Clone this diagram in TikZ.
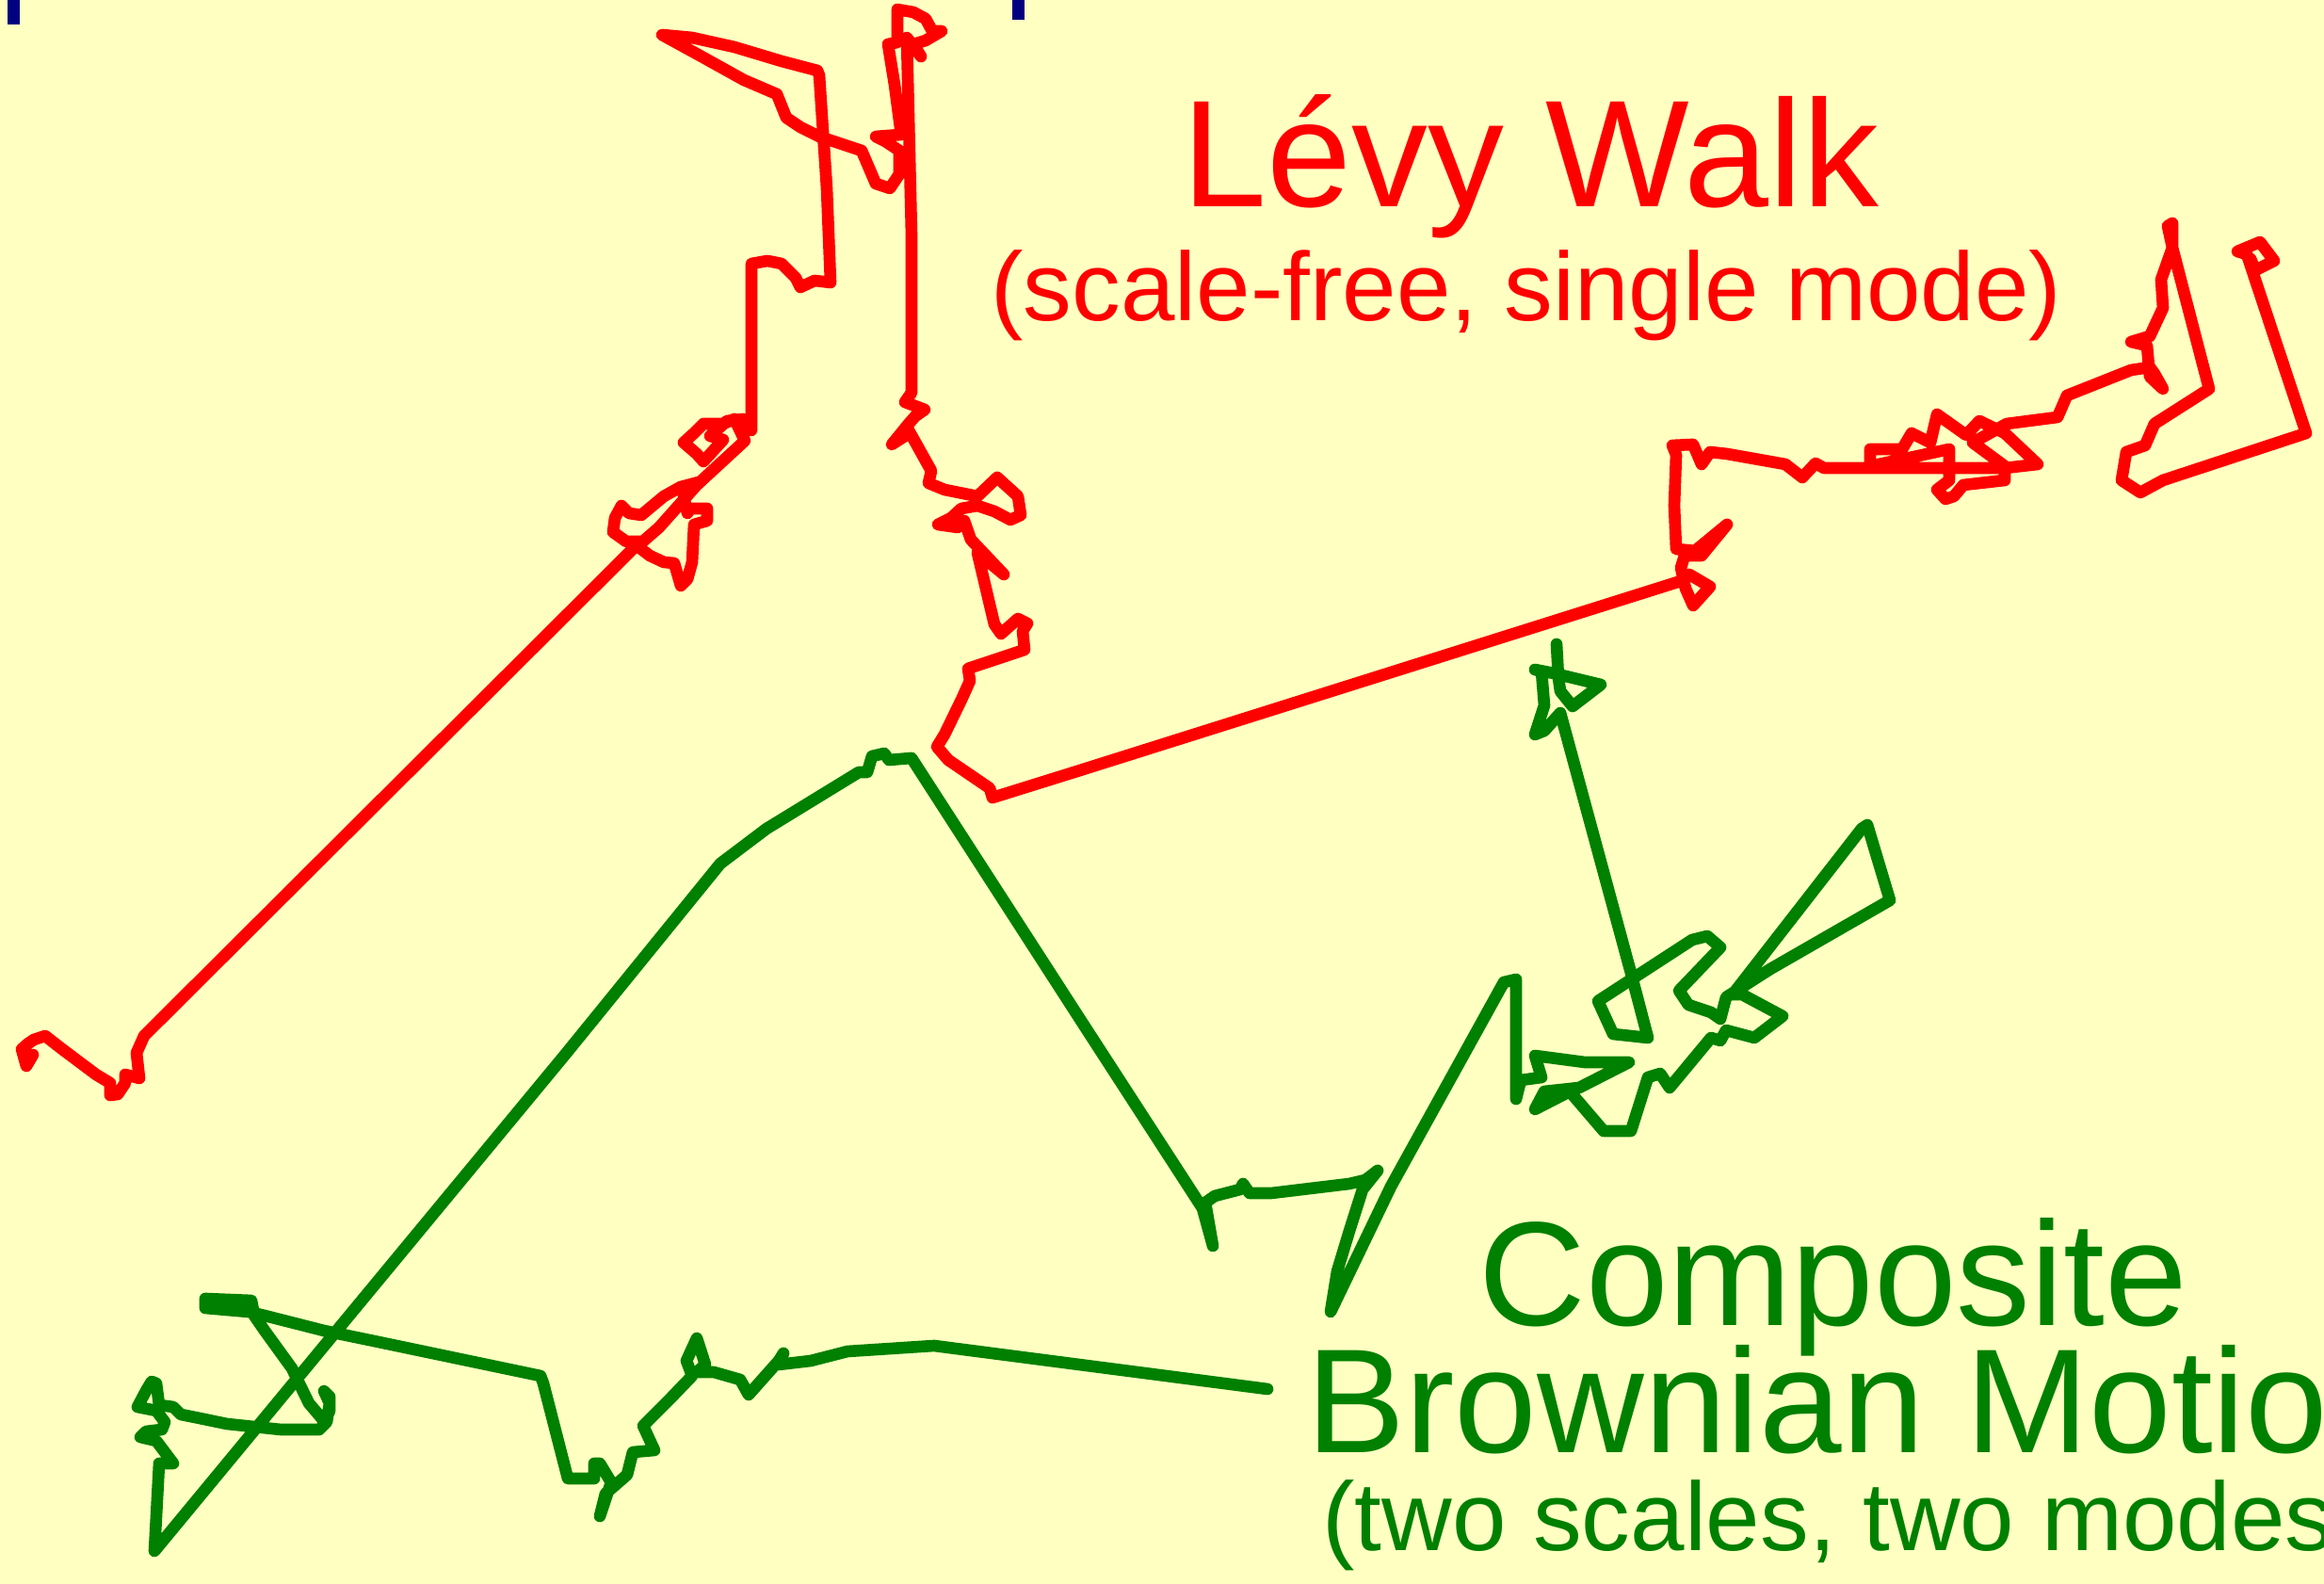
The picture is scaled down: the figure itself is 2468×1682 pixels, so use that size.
\documentclass[tikz,border=0pt]{standalone}
\usepackage{fontspec}
\setmainfont{Liberation Sans}
\definecolor{bgyellow}{HTML}{FFFFC2}
\definecolor{walkred}{HTML}{FF0000}
\definecolor{walkgreen}{HTML}{008000}
\definecolor{titlenavy}{HTML}{000080}
\tikzset{
  redwalk/.style={draw=walkred, line width=1.8pt, line join=round, line cap=round},
  greenwalk/.style={draw=walkgreen, line width=1.8pt, line join=round, line cap=round},
  biglabel/.style={inner sep=0pt, anchor=base west, font=\fontsize{22.4}{26}\selectfont},
  smalllabel/.style={inner sep=0pt, anchor=base west, font=\fontsize{14.7}{17}\selectfont}
}
\begin{document}
\begin{tikzpicture}[x=0.05mm, y=-0.05mm]
\useasboundingbox (0,0) rectangle (2468,1682);
\fill[bgyellow] (0,0) rectangle (2468,1682);
\begin{scope}
\clip (0,0) rectangle (2468,1682);
% title fragments cut at the top edge
\fill[titlenavy] (8,0) rectangle (21,26);
\fill[titlenavy] (1075,0) rectangle (1088,21);

% Levy walk
\draw[redwalk] (35,1120) -- (28,1132) -- (23,1114) -- (30,1108) -- (36,1104) -- (48,1100) -- (66,1114) -- (102,1141) -- (117,1150) -- (117,1163) -- (125,1162) -- (133,1150) -- (133,1141) -- (148,1145) -- (145,1118) -- (153,1100)
 -- (680,575) -- (665,575) -- (651,565) -- (653,550) -- (660,537) -- (668,545) -- (681,547) -- (705,527) -- (723,517) -- (742,512) -- (726,527) -- (730,545) -- (733,540) -- (751,540) -- (751,553) -- (737,557) -- (735,597) -- (730,615) -- (723,622) -- (716,598) -- (705,597) -- (690,590) -- (677,580) -- (700,560) -- (740,515) -- (791,468) -- (780,445) -- (768,450) -- (747,450) -- (737,460) -- (726,470) -- (740,482) -- (747,490) -- (768,467) -- (754,463) -- (772,447) -- (789,445) -- (798,457)
 -- (798,280) -- (815,277) -- (830,280) -- (845,295) -- (850,305) -- (865,298) -- (882,300) -- (878,200) -- (870,80) -- (868,75) -- (830,65) -- (780,50) -- (735,40) -- (703,37) -- (745,60) -- (790,85) -- (825,100) -- (835,125) -- (850,135) -- (870,145) -- (915,160) -- (930,195) -- (945,200) -- (955,185) -- (955,160) -- (940,150) -- (930,145) -- (957,143) -- (950,90) -- (943,47) -- (953,45) -- (953,10) -- (970,13) -- (983,20) -- (990,33) -- (1000,33) -- (983,43) -- (970,47) -- (978,60) -- (963,40) -- (968,250) -- (968,417)
 -- (961,427) -- (982,435) -- (972,442) -- (965,450) -- (947,472) -- (961,463) -- (965,457) -- (989,500) -- (986,513) -- (1003,520) -- (1038,527) -- (1059,507) -- (1081,527) -- (1084,547) -- (1073,552) -- (1056,543) -- (1038,537) -- (1021,540) -- (1010,550) -- (996,557) -- (1017,560) -- (1024,553) -- (1031,573) -- (1066,610) -- (1038,587) -- (1056,663) -- (1063,673) -- (1081,657) -- (1091,662) -- (1086,670) -- (1088,690) -- (1028,710) -- (1030,723) -- (1021,743) -- (1003,780) -- (995,793) -- (1007,807) -- (1051,837) -- (1054,847) -- (1147,818)
 -- (1785,617) -- (1794,610) -- (1816,623) -- (1798,643) -- (1790,625) -- (1785,603) -- (1789,590) -- (1807,590) -- (1834,557) -- (1800,585) -- (1780,583) -- (1778,537) -- (1780,483) -- (1776,473) -- (1798,472) -- (1807,493) -- (1816,480) -- (1834,482) -- (1896,493) -- (1914,507) -- (1928,492) -- (1937,497) -- (2012,497) -- (2060,497) -- (2129,497) -- (2164,493) -- (2129,460) -- (2102,447) -- (2088,462) -- (2057,440) -- (2050,470) -- (2030,460) -- (2020,477) -- (1986,477) -- (1986,495) -- (2070,477) -- (2070,510) -- (2057,520) -- (2066,530) -- (2075,527) -- (2085,515) -- (2129,510) -- (2129,495) -- (2095,470) -- (2131,450) -- (2185,443) -- (2195,420) -- (2263,393) -- (2283,390) -- (2288,397) -- (2297,413) -- (2283,400) -- (2280,367) -- (2263,363) -- (2283,357) -- (2297,327) -- (2295,297) -- (2307,263) -- (2302,240) -- (2307,237) -- (2307,263) -- (2346,413) -- (2288,450) -- (2278,473) -- (2258,480) -- (2253,510) -- (2273,523) -- (2297,510) -- (2449,460) -- (2386,270) -- (2376,267) -- (2400,257) -- (2415,277) -- (2395,287) -- (2390,275);

% Composite Brownian motion
\draw[greenwalk] (1346,1475) -- (992,1429) -- (900,1435) -- (861,1445) -- (827,1449) -- (832,1437) -- (827,1445) -- (795,1481) -- (786,1465) -- (758,1457) -- (740,1457) -- (749,1449) -- (740,1421) -- (729,1445) -- (735,1461) -- (712,1485) -- (683,1514) -- (695,1540) -- (672,1542) -- (666,1566) -- (643,1586) -- (637,1610) -- (649,1574) -- (637,1554) -- (631,1554) -- (631,1570) -- (603,1570) -- (577,1469) -- (574,1461) -- (402,1425) -- (344,1413) -- (281,1397) -- (264,1393) -- (218,1389) -- (218,1379) -- (267,1381) -- (270,1397) -- (281,1413) -- (310,1453) -- (328,1490) -- (345,1510) -- (350,1498) -- (350,1483) -- (344,1477) -- (350,1490) -- (347,1510) -- (339,1518) -- (298,1518) -- (241,1512) -- (212,1506) -- (192,1502) -- (184,1494) -- (169,1492) -- (166,1469) -- (161,1467) -- (155,1477) -- (146,1494) -- (166,1498) -- (175,1510) -- (172,1518) -- (155,1520) -- (149,1526) -- (166,1530) -- (172,1538) -- (184,1554) -- (169,1554) -- (166,1610) -- (164,1647)
 -- (600,1120) -- (765,917) -- (814,880) -- (912,820) -- (921,820) -- (926,803) -- (939,800) -- (944,807) -- (968,805) -- (1150,1087) -- (1277,1283) -- (1288,1323) -- (1280,1277) -- (1290,1270) -- (1317,1263) -- (1320,1257) -- (1327,1267) -- (1350,1267) -- (1433,1257) -- (1450,1253) -- (1463,1243) -- (1447,1263) -- (1433,1307) -- (1420,1350) -- (1413,1393) -- (1477,1260) -- (1597,1043) -- (1610,1040) -- (1610,1167) -- (1615,1147) -- (1637,1144) -- (1630,1121) -- (1683,1128) -- (1730,1128) -- (1677,1155) -- (1640,1159) -- (1630,1178) -- (1667,1159) -- (1703,1201) -- (1732,1201) -- (1750,1144) -- (1763,1140) -- (1773,1155) -- (1817,1102) -- (1827,1105) -- (1833,1094) -- (1863,1102) -- (1893,1079) -- (1850,1056) -- (1840,1056) -- (1977,880) -- (1983,876) -- (2007,956) -- (1880,1029) -- (1833,1059) -- (1827,1082) -- (1817,1075) -- (1793,1067) -- (1783,1052) -- (1827,1006) -- (1813,994) -- (1797,998) -- (1737,1037) -- (1697,1063) -- (1713,1098) -- (1750,1102) -- (1733,1037) -- (1657,757) -- (1640,776) -- (1630,780) -- (1640,749) -- (1637,713) -- (1630,711) -- (1650,715) -- (1700,727) -- (1670,750) -- (1657,734) -- (1655,720) -- (1653,684);

% labels
\node[biglabel, text=walkred, font=\fontsize{23}{27}\selectfont] (levy) at (1254,220) {Lévy Walk};
\node[smalllabel, text=walkred] (levysub) at (1051,341) {(scale-free, single mode)};
\node[biglabel, text=walkgreen] (comp) at (1569,1408) {Composite};
\node[biglabel, text=walkgreen] (brown) at (1386,1543) {Brownian Motion};
\node[smalllabel, text=walkgreen] (brownsub) at (1403,1647) {(two scales, two modes)};
\end{scope}
\end{tikzpicture}
\end{document}
